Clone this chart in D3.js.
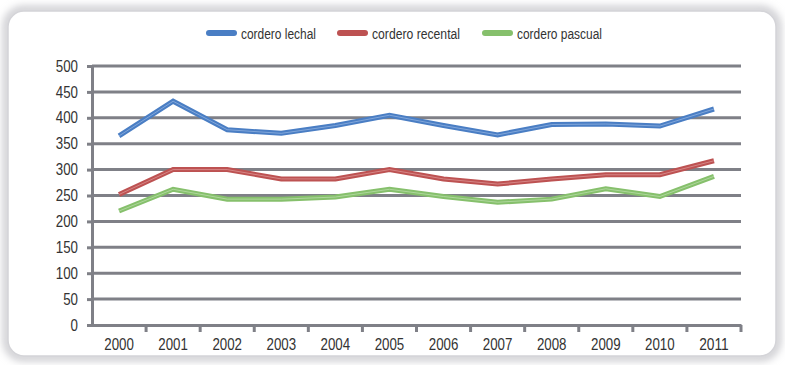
<!DOCTYPE html>
<html lang="es">
<head>
<meta charset="utf-8">
<title>cordero</title>
<script src="https://d3js.org/d3.v7.min.js"></script>
<style>
  body { margin: 0; background: #fff; }
  text { font-family: "Liberation Sans", Arial, sans-serif; fill: #333; }
</style>
</head>
<body>
<script>
// data
const years = ["2000","2001","2002","2003","2004","2005","2006","2007","2008","2009","2010","2011"];
const lechal   = [365, 432, 377, 370, 385, 405, 385, 367, 387, 388, 384, 417];
const recental = [252, 300, 300, 282, 282, 300, 282, 272, 282, 290, 290, 317];
const pascual  = [220, 262, 243, 243, 247, 262, 248, 237, 243, 263, 248, 287];
const yTicks = [0, 50, 100, 150, 200, 250, 300, 350, 400, 450, 500];

const series = [
  { name: "cordero lechal", values: lechal, color: "#4a7ec4", light: "#8fb0e0" },
  { name: "cordero recental", values: recental, color: "#bd5252", light: "#dc9292" },
  { name: "cordero pascual", values: pascual, color: "#86c06c", light: "#b8dca8" }
];

const width = 785, height = 365;
const plotL = 92, plotR = 741, plotT = 66, plotB = 325;
const digitW = 7.4; // condensed digit width

const svg = d3.select("body").append("svg")
  .attr("width", width).attr("height", height);

// frame with soft bevel
const defs = svg.append("defs");
const f = defs.append("filter").attr("id", "sh").attr("x", "-5%").attr("y", "-5%").attr("width", "110%").attr("height", "110%");
f.append("feGaussianBlur").attr("stdDeviation", 4);

svg.append("rect")
  .attr("x", 7).attr("y", 10).attr("width", 770).attr("height", 347)
  .attr("rx", 16)
  .attr("fill", "none")
  .attr("stroke", "#b8b8be").attr("stroke-width", 6)
  .attr("filter", "url(#sh)");
svg.append("rect")
  .attr("x", 8).attr("y", 11).attr("width", 768).attr("height", 345)
  .attr("rx", 16)
  .attr("fill", "#fff")
  .attr("stroke", "#d4d4d8").attr("stroke-width", 1.5);

// scales
const x = d3.scaleBand().domain(years).range([plotL, plotR]);
const y = d3.scaleLinear().domain([0, 500]).range([plotB, plotT]);

// gridlines
svg.append("g").selectAll("line")
  .data(yTicks.filter(d => d > 0))
  .enter().append("line")
  .attr("x1", plotL).attr("x2", plotR)
  .attr("y1", d => y(d)).attr("y2", d => y(d))
  .attr("stroke", "#7f8087").attr("stroke-width", 3);

// y axis
const yAxis = svg.append("g")
  .attr("transform", "translate(" + plotL + ",0)")
  .call(d3.axisLeft(y).tickValues(yTicks).tickSize(5).tickPadding(9));
yAxis.select(".domain").attr("stroke", "#7f8087").attr("stroke-width", 3);
yAxis.selectAll(".tick line").attr("stroke", "#7f8087").attr("stroke-width", 3);
yAxis.selectAll("text").attr("font-size", 16).attr("fill", "#333")
  .attr("textLength", d => String(d).length * digitW).attr("lengthAdjust", "spacingAndGlyphs");

// x axis
const xAxis = svg.append("g")
  .attr("transform", "translate(0," + plotB + ")")
  .call(d3.axisBottom(x).tickSize(0).tickPadding(13));
xAxis.select(".domain").attr("stroke", "#7f8087").attr("stroke-width", 3);
xAxis.selectAll("text").attr("font-size", 17).attr("fill", "#333")
  .attr("textLength", d => d.length * digitW).attr("lengthAdjust", "spacingAndGlyphs");
xAxis.selectAll(".bt")
  .data(years.map((d, i) => i + 1))
  .enter().append("line")
  .attr("x1", i => plotL + i * x.bandwidth()).attr("x2", i => plotL + i * x.bandwidth())
  .attr("y1", 0).attr("y2", 7)
  .attr("stroke", "#7f8087").attr("stroke-width", 3);

// lines
const line = d3.line()
  .x((d, i) => x(years[i]) + x.bandwidth() / 2)
  .y(d => y(d));

series.forEach(s => {
  svg.append("path").datum(s.values)
    .attr("d", line).attr("fill", "none")
    .attr("stroke", s.color).attr("stroke-width", 5);
  svg.append("path").datum(s.values)
    .attr("d", line).attr("fill", "none")
    .attr("stroke", s.light).attr("stroke-width", 1).attr("opacity", 0.8);
});

// legend
const legendX = [206, 337, 482];
const legendW = [75, 88, 85];
series.forEach((s, i) => {
  svg.append("rect")
    .attr("x", legendX[i]).attr("y", 30).attr("width", 31).attr("height", 6)
    .attr("rx", 3).attr("fill", s.color);
  svg.append("text")
    .attr("x", legendX[i] + 35).attr("y", 39)
    .attr("font-size", 15.5)
    .attr("textLength", legendW[i]).attr("lengthAdjust", "spacingAndGlyphs")
    .text(s.name);
});
</script>
</body>
</html>
